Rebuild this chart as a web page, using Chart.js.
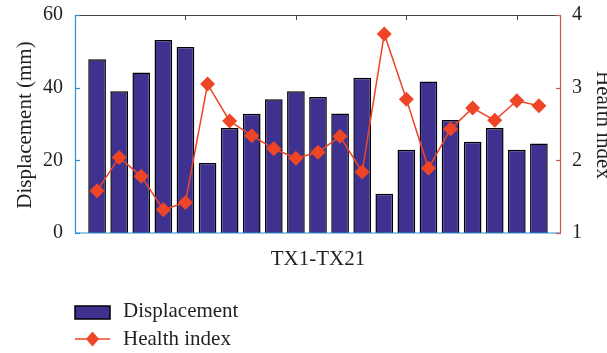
<!DOCTYPE html>
<html>
<head>
<meta charset="utf-8">
<script src="https://cdn.jsdelivr.net/npm/chart.js@4/dist/chart.umd.min.js"></script>
<style>
  html, body { margin:0; padding:0; background:#fff; }
  #wrap { width:607px; height:353px; position:relative; }
</style>
</head>
<body>
<div id="wrap"><canvas id="c" width="607" height="353"></canvas></div>
<script>
// 데이터
const samples = [1,2,3,4,5,6,7,8,9,10,11,12,13,14,15,16,17,18,19,20,21];
const displacement = [47.8,39.0,44.2,53.1,51.2,19.3,28.9,32.8,36.8,39.0,37.4,32.9,42.7,10.8,22.9,41.7,31.1,25.1,28.9,22.9,24.6];
const healthIndex  = [1.58,2.04,1.78,1.32,1.42,3.05,2.54,2.34,2.16,2.03,2.11,2.33,1.84,3.74,2.84,1.89,2.43,2.72,2.55,2.82,2.75];
const leftTicks  = [0,20,40,60];
const rightTicks = [1,2,3,4];
const topTicks   = [5,10,15,20];

const BAR = '#3f3190';
const LINE = '#ee4527';
const BLUE = '#2a8fd2';
const RED  = '#c9584c';
const FONT = '"Liberation Serif", "DejaVu Serif", serif';

// 세로축 라벨 여백 제거 (플롯 영역 고정)
function fixY(width){
  return s => { s.width = width; s.paddingTop = 0; s.paddingBottom = 0; };
}

// 축선, 안쪽 눈금, 제목, 범례
const decor = {
  id: 'decor',
  afterDraw(chart){
    const {ctx, chartArea:a, scales} = chart;
    const x = scales.x, y = scales.y, y2 = scales.y2;
    ctx.save();
    // 윗테두리 + 눈금
    ctx.strokeStyle = '#444'; ctx.lineWidth = 1;
    ctx.beginPath(); ctx.moveTo(a.left, a.top+0.5); ctx.lineTo(a.right, a.top+0.5); ctx.stroke();
    topTicks.forEach(t=>{
      const px = Math.round(x.getPixelForValue(t))+0.5;
      ctx.beginPath(); ctx.moveTo(px, a.top); ctx.lineTo(px, a.top+5); ctx.stroke();
    });
    // 왼쪽 축
    ctx.strokeStyle = BLUE; ctx.lineWidth = 1.2;
    ctx.beginPath(); ctx.moveTo(a.left+0.5, a.top); ctx.lineTo(a.left+0.5, a.bottom); ctx.lineTo(a.right, a.bottom); ctx.stroke();
    leftTicks.forEach(t=>{
      const py = Math.round(y.getPixelForValue(t))+0.5;
      ctx.beginPath(); ctx.moveTo(a.left, py); ctx.lineTo(a.left+5, py); ctx.stroke();
    });
    // 오른쪽 축
    ctx.strokeStyle = RED;
    ctx.beginPath(); ctx.moveTo(a.right-0.5, a.top); ctx.lineTo(a.right-0.5, a.bottom); ctx.stroke();
    rightTicks.forEach(t=>{
      const py = Math.round(y2.getPixelForValue(t))+0.5;
      ctx.beginPath(); ctx.moveTo(a.right, py); ctx.lineTo(a.right-5, py); ctx.stroke();
    });

    ctx.fillStyle = '#231f20';
    ctx.font = '21px ' + FONT;
    ctx.textAlign = 'center'; ctx.textBaseline = 'middle';
    // 축 제목
    ctx.save(); ctx.translate(25, 125); ctx.rotate(-Math.PI/2);
    ctx.fillText('Displacement (mm)', 0, 0); ctx.restore();
    ctx.save(); ctx.translate(603, 125); ctx.rotate(Math.PI/2);
    ctx.fillText('Health index', 0, 0); ctx.restore();
    ctx.fillText('TX1-TX21', (a.left+a.right)/2, 259);

    // 범례
    ctx.fillStyle = BAR; ctx.fillRect(75, 306, 35, 13);
    ctx.strokeStyle = '#000'; ctx.lineWidth = 1.5; ctx.strokeRect(75, 306, 35, 13);
    ctx.strokeStyle = LINE; ctx.lineWidth = 1.5;
    ctx.beginPath(); ctx.moveTo(75, 339); ctx.lineTo(110, 339); ctx.stroke();
    ctx.fillStyle = LINE;
    ctx.beginPath(); ctx.moveTo(92.5, 331.5); ctx.lineTo(99, 339); ctx.lineTo(92.5, 346.5); ctx.lineTo(86, 339); ctx.closePath(); ctx.fill();
    ctx.fillStyle = '#231f20'; ctx.textAlign = 'left';
    ctx.fillText('Displacement', 123, 311);
    ctx.fillText('Health index', 123, 339);
    ctx.restore();
  }
};

new Chart(document.getElementById('c'), {
  type: 'bar',
  data: {
    datasets: [{
      type: 'line',
      label: 'Health index',
      data: samples.map((s,i)=>({x:s, y:healthIndex[i]})),
      yAxisID: 'y2',
      borderColor: LINE, backgroundColor: LINE,
      borderWidth: 1.5,
      pointStyle: 'rectRot', pointRadius: 7.5, pointBorderWidth: 0,
      tension: 0,
      order: 0
    },{
      label: 'Displacement',
      data: samples.map((s,i)=>({x:s, y:displacement[i]})),
      yAxisID: 'y',
      backgroundColor: BAR, borderColor: '#000', borderWidth: 1.5,
      barPercentage: 0.8, categoryPercentage: 1,
      order: 1
    }]
  },
  options: {
    responsive: false, animation: false,
    layout: { padding: { top: 15, left: 0, right: 0, bottom: 0 } },
    plugins: { legend: { display:false }, tooltip: { enabled:false } },
    scales: {
      x: {
        type: 'linear', min: 0, max: 22, offset: false,
        grid: { display:false }, border: { display:false },
        ticks: { display:false },
        afterFit: s => { s.height = 120; s.paddingLeft = 0; s.paddingRight = 0; }
      },
      y: {
        position: 'left', min: 0, max: 60,
        afterBuildTicks: s => { s.ticks = leftTicks.map(v=>({value:v})); },
        grid: { display:false, drawTicks:false }, border: { display:false },
        ticks: { color:'#231f20', font:{ family: FONT, size: 20 }, padding: 12 },
        afterFit: fixY(75)
      },
      y2: {
        position: 'right', min: 1, max: 4,
        afterBuildTicks: s => { s.ticks = rightTicks.map(v=>({value:v})); },
        grid: { display:false, drawTicks:false }, border: { display:false },
        ticks: { color:'#231f20', font:{ family: FONT, size: 20 }, padding: 11 },
        afterFit: fixY(46)
      }
    }
  },
  plugins: [decor]
});
</script>
</body>
</html>
